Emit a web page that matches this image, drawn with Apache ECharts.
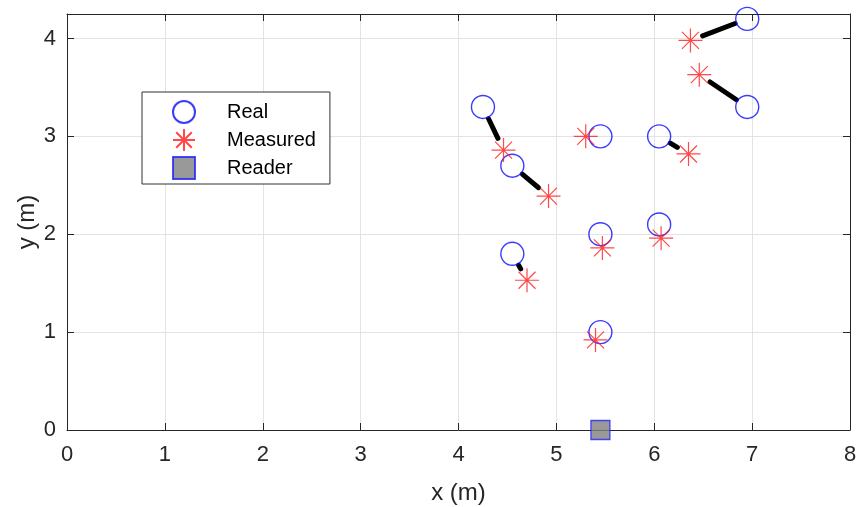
<!DOCTYPE html>
<html>
<head>
<meta charset="utf-8">
<script src="https://cdn.jsdelivr.net/npm/echarts@6/dist/echarts.min.js"></script>
<style>
  html, body { margin: 0; padding: 0; background: #fff; }
  #main { width: 858px; height: 507px; }
</style>
</head>
<body>
<div id="main"></div>
<script>
// real tag positions (m)
var realX = [6.95, 6.95, 4.25, 5.45, 6.05, 4.55, 5.45, 6.05, 4.55, 5.45];
var realY = [4.20, 3.30, 3.30, 3.00, 3.00, 2.70, 2.00, 2.10, 1.80, 1.00];
// measured positions, same order
var measX = [6.37, 6.46, 4.46, 5.30, 6.35, 4.92, 5.47, 6.07, 4.70, 5.40];
var measY = [3.98, 3.63, 2.86, 3.00, 2.82, 2.39, 1.86, 1.96, 1.53, 0.92];
// reader
var readerX = [5.45];
var readerY = [0];

var txt = '#262626';
var fnt = 'Liberation Sans, Arial, Helvetica, sans-serif';
var asterisk = 'path://M12 0L12 24M0 12L24 12M3.5 3.5L20.5 20.5M20.5 3.5L3.5 20.5';
var square = 'path://M0 0L10 0L10 10L0 10Z';

var realData = realX.map(function (x, i) { return [x, realY[i]]; });
var measData = measX.map(function (x, i) { return [x, measY[i]]; });
var readerData = readerX.map(function (x, i) { return [x, readerY[i]]; });
var errData = realX.map(function (x, i) { return [x, realY[i], measX[i], measY[i]]; });

function axisCommon(extra) {
	var a = {
		min: 0,
		interval: 1,
		axisLine: { show: true, onZero: false, lineStyle: { color: txt, width: 1 } },
		axisTick: { show: true, inside: true, length: 7, lineStyle: { color: txt } },
		splitLine: { show: false },
		axisLabel: { show: false }
	};
	for (var k in extra) a[k] = extra[k];
	return a;
}

var chart = echarts.init(document.getElementById('main'));
chart.setOption({
	animation: false,
	backgroundColor: '#fff',
	grid: { left: 67, right: 8, top: 14, bottom: 77, outerBoundsMode: 'none' },
	legend: {
		orient: 'vertical',
		left: 142,
		top: 92,
		data: ['Real', 'Measured', 'Reader'],
		itemWidth: 62,
		itemHeight: 22,
		itemGap: 4,
		padding: [8, 14, 4, 30],
		borderColor: '#303030',
		borderWidth: 1,
		backgroundColor: '#fff',
		textStyle: { color: '#000', fontSize: 20, lineHeight: 22, fontFamily: fnt, padding: [0, 0, 0, 7] }
	},
	xAxis: [
		axisCommon({
			type: 'value', position: 'bottom', max: 8,
			name: 'x (m)', nameLocation: 'middle', nameGap: 51, nameMoveOverlap: false,
			nameTextStyle: { color: txt, fontSize: 24, fontFamily: fnt },
			axisLabel: { show: true, color: txt, fontSize: 22, fontFamily: fnt, margin: 14 },
			splitLine: { show: true, lineStyle: { color: '#e3e3e3', width: 1 } }
		}),
		axisCommon({ type: 'value', position: 'top', max: 8 })
	],
	yAxis: [
		axisCommon({
			type: 'value', position: 'left', max: 4.25,
			name: 'y (m)', nameLocation: 'middle', nameGap: 28, nameMoveOverlap: false,
			nameTextStyle: { color: txt, fontSize: 24, fontFamily: fnt },
			axisLabel: { show: true, color: txt, fontSize: 22, fontFamily: fnt, margin: 11, showMaxLabel: false },
			splitLine: { show: true, lineStyle: { color: '#e3e3e3', width: 1 } }
		}),
		axisCommon({ type: 'value', position: 'right', max: 4.25 })
	],
	series: [
		{
			// error segments, trimmed at the marker edges
			name: 'err',
			type: 'custom',
			xAxisIndex: 0,
			yAxisIndex: 0,
			data: errData,
			z: 1,
			renderItem: function (params, api) {
				var p1 = api.coord([api.value(0), api.value(1)]);
				var p2 = api.coord([api.value(2), api.value(3)]);
				var dx = p2[0] - p1[0], dy = p2[1] - p1[1];
				var d = Math.sqrt(dx * dx + dy * dy);
				var cut = 13;
				if (d <= cut * 2 + 1) return null;
				var ux = dx / d, uy = dy / d;
				return {
					type: 'line',
					shape: {
						x1: p1[0] + ux * cut, y1: p1[1] + uy * cut,
						x2: p2[0] - ux * cut, y2: p2[1] - uy * cut
					},
					style: { stroke: '#000', lineWidth: 5, lineCap: 'round' }
				};
			}
		},
		{
			name: 'Real',
			type: 'scatter',
			data: realData,
			symbol: 'circle',
			symbolSize: 23,
			symbolKeepAspect: true,
			z: 3,
			itemStyle: { color: 'rgba(0,0,0,0)', borderColor: '#0a0aff', borderWidth: 1.4 }
		},
		{
			name: 'Measured',
			type: 'scatter',
			data: measData,
			symbol: asterisk,
			symbolSize: 24,
			symbolKeepAspect: true,
			z: 4,
			itemStyle: { color: 'rgba(0,0,0,0)', borderColor: '#ff1a1a', borderWidth: 1.2 }
		},
		{
			name: 'Reader',
			type: 'scatter',
			data: readerData,
			symbol: square,
			symbolSize: 19,
			symbolKeepAspect: true,
			clip: false,
			z: 5,
			itemStyle: { color: '#808080', borderColor: '#1f1fff', borderWidth: 1.3 }
		}
	]
});
</script>
</body>
</html>
